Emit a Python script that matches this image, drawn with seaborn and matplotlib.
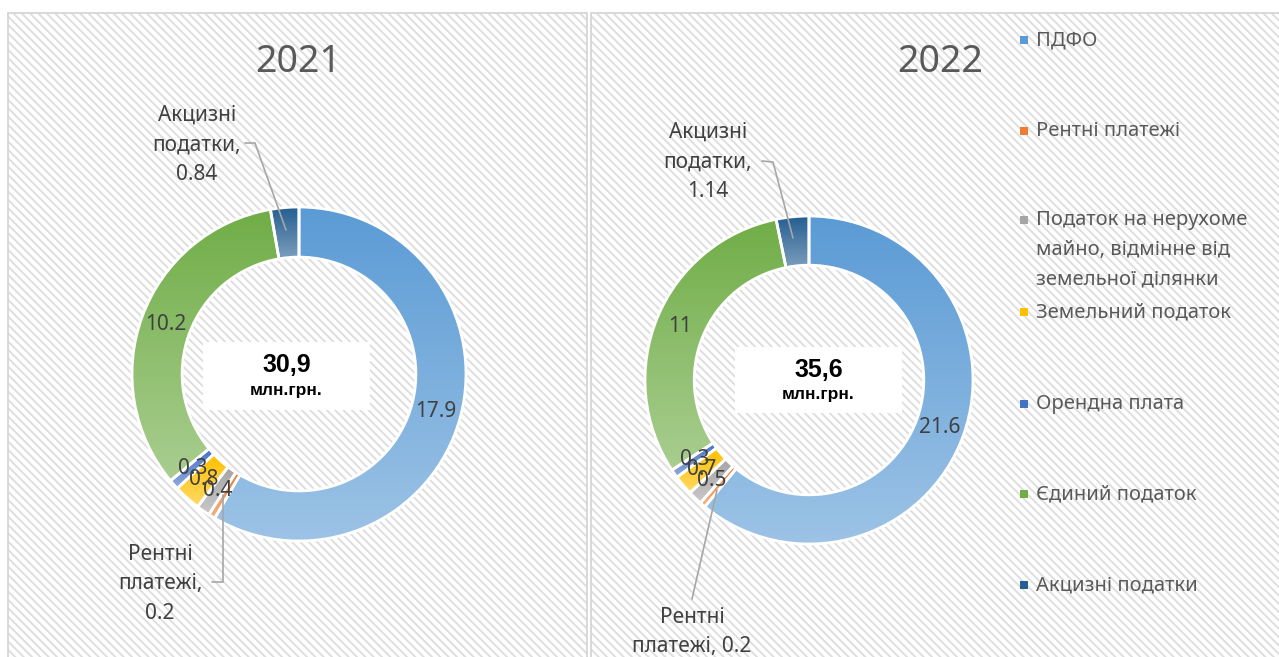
import numpy as np
import matplotlib
matplotlib.use("Agg")
import matplotlib.pyplot as plt
import matplotlib.colors as mcolors
from matplotlib.patches import Rectangle
import seaborn as sns

# Дані
categories = ["ПДФО", "Рентні платежі",
              "Податок на нерухоме\nмайно, відмінне від\nземельної ділянки",
              "Земельний податок", "Орендна плата", "Єдиний податок", "Акцизні податки"]
values_2021 = [17.9, 0.2, 0.4, 0.8, 0.3, 10.2, 0.84]
values_2022 = [21.6, 0.2, 0.5, 0.7, 0.3, 11, 1.14]
years = ["2021", "2022"]
totals = ["30,9", "35,6"]
colors = ["#5B9BD5", "#ED7D31", "#A5A5A5", "#FFC000", "#4472C4", "#70AD47", "#255E91"]

sns.set_theme(style="white")
plt.rcParams['font.family'] = ['Noto Sans', 'DejaVu Sans']
plt.rcParams['hatch.linewidth'] = 1.4

W, H = 1279, 657
fig = plt.figure(figsize=(W / 100, H / 100), dpi=100)
fig.patch.set_facecolor("white")


def fx(px):
    return px / W


def fy(py):
    return 1 - py / H


# фон з діагональною штриховкою
for x0, x1 in [(8, 587), (591, 1285)]:
    fig.add_artist(Rectangle((fx(x0), fy(665)), fx(x1 - x0), (665 - 13) / H,
                             transform=fig.transFigure, facecolor="white",
                             edgecolor="#dedede", hatch="\\\\\\\\", linewidth=0, zorder=-2))
    fig.add_artist(Rectangle((fx(x0), fy(665)), fx(x1 - x0), (665 - 13) / H,
                             transform=fig.transFigure, fill=False,
                             edgecolor="#d6d6d6", linewidth=1.3, zorder=-1))


def lighten(c, k=0.4):
    r = np.array(mcolors.to_rgb(c))
    return r + (1 - r) * k


def draw_donut(values, cx, cy, R, total, callouts, box):
    ax = fig.add_axes([fx(cx - R), fy(cy + R), 2 * R / W, 2 * R / H])
    wedges, _ = ax.pie(values, colors=colors, startangle=90, counterclock=False,
                       radius=1, wedgeprops=dict(width=0.3, edgecolor="white", linewidth=2))
    # градієнт усередині кожного сегмента
    for w, c in zip(wedges, colors):
        bb = w.get_path().get_extents()
        top, bot = np.array(mcolors.to_rgb(c)), lighten(c)
        t = np.linspace(0, 1, 100)[:, None]
        grad = (top * (1 - t) + bot * t)[:, None, :]
        im = ax.imshow(grad, extent=[bb.x0, bb.x1, bb.y0, bb.y1], origin="upper",
                       aspect="auto", zorder=0.5, interpolation="bilinear")
        im.set_clip_path(w)
        w.set_facecolor("none")
        w.set_zorder(1)
    ax.set_xlim(-1, 1)
    ax.set_ylim(-1, 1)
    ax.set_aspect("auto")
    ax.axis("off")

    # підписи значень у кільці (як в Excel, дрібні частково накладаються)
    for i, (w, v) in enumerate(zip(wedges, values)):
        if i in callouts:
            continue
        a = np.deg2rad((w.theta1 + w.theta2) / 2)
        ax.text(0.85 * np.cos(a), 0.85 * np.sin(a), f"{v:g}", ha="center", va="center",
                fontsize=15, color="#404040", zorder=3)

    # винесені підписи
    for i, (txt_xy, pts, lab) in callouts.items():
        ax.text(txt_xy[0], txt_xy[1], lab, ha="center", va="center", fontsize=15,
                color="#404040", linespacing=1.55, zorder=3)
        px = [(p[0] - cx) / R for p in pts]
        py = [(cy - p[1]) / R for p in pts]
        ax.plot(px, py, color="#a6a6a6", lw=1.2, clip_on=False, zorder=4)

    # центральний блок
    bx0, bx1, by0, by1 = box
    ax.add_patch(Rectangle(((bx0 - cx) / R, (cy - by1) / R), (bx1 - bx0) / R, (by1 - by0) / R,
                           facecolor="white", edgecolor="none", zorder=2))
    tx = ((bx0 + bx1) / 2 - cx) / R
    ax.text(tx, (cy - (by0 + 23)) / R, total, ha="center", va="center", fontsize=18,
            fontweight="bold", family="Liberation Sans", color="black", zorder=3)
    ax.text(tx, (cy - (by0 + 48)) / R, "млн.грн.", ha="center", va="center", fontsize=12.5,
            fontweight="bold", family="Liberation Sans", color="black", zorder=3)
    return ax


def to_data(px, py, cx, cy, R):
    return ((px - cx) / R, (cy - py) / R)


# 2021
cx, cy, R = 299, 374, 167
draw_donut(values_2021, cx, cy, R, totals[0],
           {6: (to_data(197, 145, cx, cy, R), [(245, 143), (255, 143), (286, 230)],
                f"Акцизні\nподатки,\n{values_2021[6]:g}"),
            1: (to_data(160, 584, cx, cy, R), [(212, 582), (223, 582), (223, 495)],
                f"Рентні\nплатежі,\n{values_2021[1]:g}")},
           (203, 370, 342, 410))

# 2022
cx, cy, R = 809, 380, 164
draw_donut(values_2022, cx, cy, R, totals[1],
           {6: (to_data(708, 162, cx, cy, R), [(762, 161), (773, 162), (793, 238)],
                f"Акцизні\nподатки,\n{values_2022[6]:g}"),
            1: (to_data(692, 632, cx, cy, R), [(692, 599), (717, 490)],
                f"Рентні\nплатежі, {values_2022[1]:g}")},
           (735, 902, 347, 413))

# заголовки
fig.text(fx(298), fy(62), years[0], ha="center", va="center", fontsize=27, color="#595959")
fig.text(fx(940), fy(62), years[1], ha="center", va="center", fontsize=27, color="#595959")

# легенда
leg_y = [40, 131, 220, 312, 404, 494, 585]
for lab, c, y in zip(categories, colors, leg_y):
    fig.add_artist(Rectangle((fx(1020), fy(y + 4)), fx(8), 8 / H, transform=fig.transFigure,
                             facecolor=c, edgecolor="none"))
    fig.text(fx(1036), fy(y - 10), lab, ha="left", va="top", fontsize=14.5,
             color="#595959", linespacing=1.65)

fig.savefig("out.png", dpi=100)
